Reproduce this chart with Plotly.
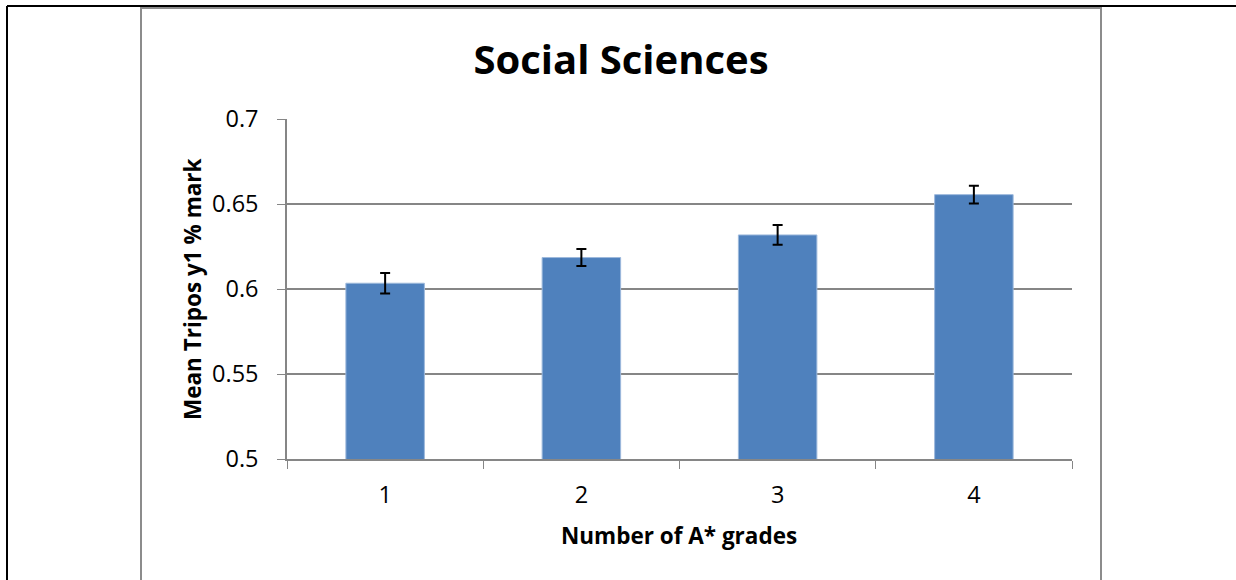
import plotly.graph_objects as go

# number of A* grades vs mean first-year Tripos mark
grades = ["1", "2", "3", "4"]
mean_mark = [0.6034, 0.6185, 0.6318, 0.6555]
mark_err = [0.0060, 0.0050, 0.0058, 0.0052]
y_ticks = [0.5, 0.55, 0.6, 0.65, 0.7]
y_tick_text = ["0.5", "0.55", "0.6", "0.65", "0.7"]

W, H = 1236, 580
# plot area in pixels
L, R, T, B = 287, 1072, 119, 459


def px(x):
    return (x - L) / (R - L)


def py(y):
    return (B - y) / (B - T)


FONT = "Open Sans"
GRID = "#868686"

fig = go.Figure()
fig.add_trace(
    go.Bar(
        x=grades,
        y=mean_mark,
        width=0.4,
        marker={"color": "#4F81BD", "line": {"color": "#9db9dc", "width": 1}},
        error_y={"type": "data", "array": mark_err, "color": "black",
                 "thickness": 2, "width": 5},
        showlegend=False,
    )
)

# page table border + chart area border
fig.add_shape(type="line", xref="paper", yref="paper",
              x0=px(7), x1=px(W + 5), y0=py(6), y1=py(6),
              line={"color": "black", "width": 2})
fig.add_shape(type="line", xref="paper", yref="paper",
              x0=px(7), x1=px(7), y0=py(6), y1=py(H + 10),
              line={"color": "black", "width": 2})
fig.add_shape(type="rect", xref="paper", yref="paper",
              x0=px(141), x1=px(1101), y0=py(H + 10), y1=py(8),
              line={"color": "#8c8c8c", "width": 2})

# axis titles
fig.add_annotation(text="<b>Number of A* grades</b>", xref="paper", yref="paper",
                   x=px(679), y=py(535), xanchor="center", yanchor="middle",
                   showarrow=False, font={"size": 22.5})
fig.add_annotation(text="<b>Mean Tripos y1 % mark</b>", xref="paper", yref="paper",
                   x=px(192), y=py(289), xanchor="center", yanchor="middle",
                   textangle=-90, showarrow=False, font={"size": 22.5})

fig.update_layout(
    width=W,
    height=H,
    margin={"l": L, "r": W - R, "t": T, "b": H - B},
    plot_bgcolor="white",
    paper_bgcolor="white",
    font={"family": FONT, "color": "black"},
    title={"text": "<b>Social Sciences</b>", "font": {"size": 40, "family": FONT},
           "x": 621 / W, "xref": "container", "xanchor": "center",
           "y": 1 - 60 / H, "yref": "container", "yanchor": "middle"},
    xaxis={
        "type": "category",
        "tickson": "boundaries",
        "ticks": "outside",
        "ticklen": 8,
        "tickcolor": GRID,
        "showline": True,
        "linecolor": GRID,
        "linewidth": 1.5,
        "showgrid": False,
        "tickfont": {"size": 23.5},
        "ticklabelstandoff": 14,
    },
    yaxis={
        "range": [0.5, 0.7],
        "tickvals": y_ticks,
        "ticktext": y_tick_text,
        "ticks": "outside",
        "ticklen": 8,
        "tickcolor": GRID,
        "showline": True,
        "linecolor": GRID,
        "linewidth": 1.5,
        "showgrid": True,
        "gridcolor": GRID,
        "gridwidth": 1.5,
        "zeroline": False,
        "tickfont": {"size": 23.5},
        "ticklabelstandoff": 14,
    },
)

# drop the default page margin so the figure sits at the window corner
fig.write_html("out.html", config={"displayModeBar": False},
               post_script="document.body.style.margin='0';")
